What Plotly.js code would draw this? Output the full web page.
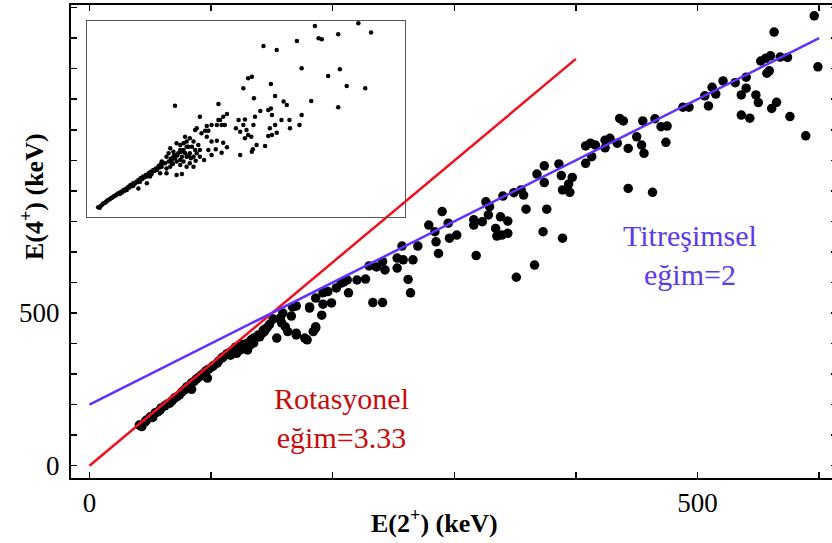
<!DOCTYPE html>
<html>
<head>
<meta charset="utf-8">
<script src="https://cdn.plot.ly/plotly-3.0.1.min.js"></script>
<style>
  html, body { margin: 0; padding: 0; overflow: hidden; background: #fff; }
  #chart { width: 840px; height: 543px; }
</style>
</head>
<body>
<div id="chart"></div>
<script>
// E(2+) and E(4+) level energies (keV), main panel
const e2 = [
  41,46,50,54,59,64,68,72,76,80,84,88,92,96,101,105,109,113,118,124,128,133,138,142,
  43,47,52,56,58,62,66,70,74,78,82,86,90,94,98,102,106,110,114,116,120,125,130,135,139,144,146,148,
  84,97,117,130,121,132,116,
  157,166,170,181,186,192,191,186,192,199,196,203,207,212,213,220,227,230,236,243,241,253,253,233,241,
  151,158,161,163,154,170,179,184,186,143,140,135,129,209,159,167,181,177,170,124,
  257,258,266,270,262,264,279,284,285,287,290,295,296,302,316,323,318,326,329,328,338,334,335,339,344,344,340,349,355,357,359,351,316,
  374,374,386,388,397,394,389,395,376,373,389,366,368,
  488,493,465,475,470,455,436,439,450,454,456,474,443,434,428,424,424,416,412,408,413,408,443,463,
  512,515,506,509,521,531,540,540,536,548,550,536,543,561,565,576,589,552,556,560,568,574,557,559,563,596,599
];
const e4 = [
  133,144,160,173,189,202,213,226,242,258,271,284,297,311,324,336,353,366,379,385,395,412,422,434,
  128,150,158,176,182,196,205,222,232,248,262,276,290,302,316,328,342,356,368,372,388,398,402,418,428,440,452,462,
  250,287,369,379,368,395,362,
  484,490,523,516,549,529,493,455,566,533,570,582,598,608,566,608,611,654,651,641,668,647,680,534,534,
  480,468,455,439,418,428,412,439,451,444,422,402,385,602,500,520,520,418,434,379,
  719,674,674,719,610,566,788,766,733,695,832,794,745,755,805,799,688,864,848,821,815,777,752,755,761,801,883,894,903,886,840,617,788,
  982,927,988,950,944,922,903,895,840,766,745,657,955,
  1174,1174,1136,1112,1110,1129,1137,1129,1077,1050,1023,1059,1039,1056,1072,1066,1041,1050,1056,1047,1012,990,908,895,
  1239,1217,1211,1178,1260,1254,1272,1236,1214,1214,1189,1148,1138,1170,1190,1143,1080,1325,1334,1342,1338,1337,1285,1293,1420,1473,1306
];

// Inset panel: the wider sample, same quantities
const insetE2 = [
  21,26,31,36,40,45,50,55,59,64,69,74,78,82,87,93,97,101,106,111,116,120,125,130,135,139,144,62,75,87,100,113,122,132,141,
  24,29,34,38,43,48,53,57,66,71,80,85,90,95,104,108,118,127,137,
  154,163,169,176,182,188,157,150,176,194,201,207,213,182,188,198,154,162,97,113,119,138,150,
  166,248,201,194,188,176,169,179,204,210,201,194,188,191,182,185,176,169,163,157,150,147,141,160,166,172,179,
  170,158,185,196,205,178,165,192,160,
  264,257,248,245,254,260,251,235,226,213,207,204,216,223,229,226,235,245,257,264,254,243,235,229,221,213,
  317,314,298,286,295,281,289,301,304,298,310,320,313,311,289,336,
  347,327,342,349,367,382,405,401,383,345,355,349,342,358,315,355,371,377,423,474,
  430,512,536,437,443,474,396,333,358,405,455,477,525,490,347,295,304,311
];
const insetE4 = [
  74,84,105,117,130,143,156,168,181,194,207,219,232,245,258,270,283,296,309,321,334,347,360,372,390,403,416,176,207,237,270,309,329,360,385,
  70,96,110,124,136,150,162,175,188,200,226,238,252,265,290,302,328,352,378,
  487,462,424,436,424,385,385,372,513,487,462,487,513,564,538,538,424,406,219,258,309,334,334,
  852,865,385,411,462,398,321,329,513,551,577,602,577,538,513,615,551,564,500,526,462,411,424,436,449,487,462,
  470,445,490,450,430,500,475,470,410,
  788,768,742,704,704,704,742,704,696,768,679,666,640,661,661,615,577,584,569,533,492,518,475,513,436,462,
  768,704,747,742,704,679,653,666,628,602,615,551,518,500,475,543,
  831,811,819,781,742,742,781,704,679,679,704,628,620,645,908,926,883,857,888,839,
  1462,1482,1411,1367,1360,1398,1347,1309,1278,1138,1079,1130,985,1003,1018,985,1061,1074
];

// Reference trends
const rotSlope = 3.33;      // rotational limit, E(4+) = 3.33 E(2+)
const rotE2 = [0, 400];
const vibSlope = 2;         // vibrational limit, E(4+) = 2 E(2+) + 200
const vibOffset = 200;
const vibE2 = [0, 600];

// Labelled ticks; unlabelled minor ticks every 100 keV
const labelTicks = [0, 500];
const labelText = ['0', '500'];
const minorStep = 100;

const serif = 'Liberation Serif, Times New Roman, serif';

const traces = [
  {
    x: e2, y: e4, type: 'scatter', mode: 'markers',
    marker: { color: '#000', size: 9.5 },
    xaxis: 'x', yaxis: 'y', hoverinfo: 'skip'
  },
  {
    x: rotE2, y: rotE2.map(v => rotSlope * v), type: 'scatter', mode: 'lines',
    line: { color: '#f01020', width: 2.5 }, xaxis: 'x', yaxis: 'y'
  },
  {
    x: vibE2, y: vibE2.map(v => vibSlope * v + vibOffset), type: 'scatter', mode: 'lines',
    line: { color: '#6230ff', width: 2.5 }, xaxis: 'x', yaxis: 'y'
  },
  {
    x: insetE2, y: insetE4, type: 'scatter', mode: 'markers',
    marker: { color: '#000', size: 4.5 },
    xaxis: 'x2', yaxis: 'y2'
  }
];

const mainAxis = {
  showline: true, linecolor: '#000', linewidth: 2, mirror: 'allticks',
  ticks: 'inside', ticklen: 6, tickwidth: 1.5, tickcolor: '#000',
  tickmode: 'array', tickvals: labelTicks, ticktext: labelText,
  minor: { ticks: 'inside', dtick: minorStep, tick0: 0, ticklen: 6, tickwidth: 1.5, tickcolor: '#000', showgrid: false },
  showgrid: false, zeroline: false,
  tickfont: { family: serif, size: 27, color: '#000' }
};

const layout = {
  width: 840, height: 543,
  margin: { l: 71, r: 3, t: 5, b: 65 },
  paper_bgcolor: '#fff', plot_bgcolor: 'rgba(0,0,0,0)',
  showlegend: false,
  xaxis: Object.assign({}, mainAxis, {
    range: [-15.2, 614.7], domain: [0, 1], anchor: 'y'
  }),
  yaxis: Object.assign({}, mainAxis, {
    range: [-40.3, 1508.5], domain: [0, 1], anchor: 'x', ticklabelstandoff: 4
  }),
  xaxis2: {
    domain: [0.0209, 0.4360], range: [0, 600], anchor: 'y2',
    showline: true, mirror: true, linecolor: '#555', linewidth: 1,
    ticks: '', showticklabels: false, showgrid: false, zeroline: false
  },
  yaxis2: {
    domain: [0.5518, 0.9662], range: [0, 1500], anchor: 'x2',
    showline: true, mirror: true, linecolor: '#555', linewidth: 1,
    ticks: '', showticklabels: false, showgrid: false, zeroline: false
  },
  annotations: [
    {
      text: '<b>E(2<sup>+</sup>) (keV)</b>', xref: 'paper', yref: 'paper',
      x: 0.4739, y: -0.093, xanchor: 'center', yanchor: 'middle', showarrow: false,
      font: { family: serif, size: 26, color: '#000' }
    },
    {
      text: '<b>E(4<sup>+</sup>) (keV)</b>', xref: 'paper', yref: 'paper', textangle: -90,
      x: -0.0509, y: 0.594, xanchor: 'center', yanchor: 'middle', showarrow: false,
      font: { family: serif, size: 26, color: '#000' }
    },
    {
      text: 'Rotasyonel<br>eğim=3.33', xref: 'paper', yref: 'paper',
      x: 0.3525, y: 0.1268, xanchor: 'center', yanchor: 'middle', showarrow: false,
      font: { family: serif, size: 30, color: '#c80a0a' }
    },
    {
      text: 'Titreşimsel<br>eğim=2', xref: 'paper', yref: 'paper',
      x: 0.8081, y: 0.4715, xanchor: 'center', yanchor: 'middle', showarrow: false,
      font: { family: serif, size: 30, color: '#5b3af0' }
    }
  ]
};

Plotly.newPlot('chart', traces, layout, { displayModeBar: false, staticPlot: true })
  .then(gd => {
    // drop the empty axis-title placeholders Plotly leaves in the SVG
    gd.querySelectorAll('text').forEach(t => {
      if (!t.textContent.trim()) t.remove();
    });
  });
</script>
</body>
</html>
